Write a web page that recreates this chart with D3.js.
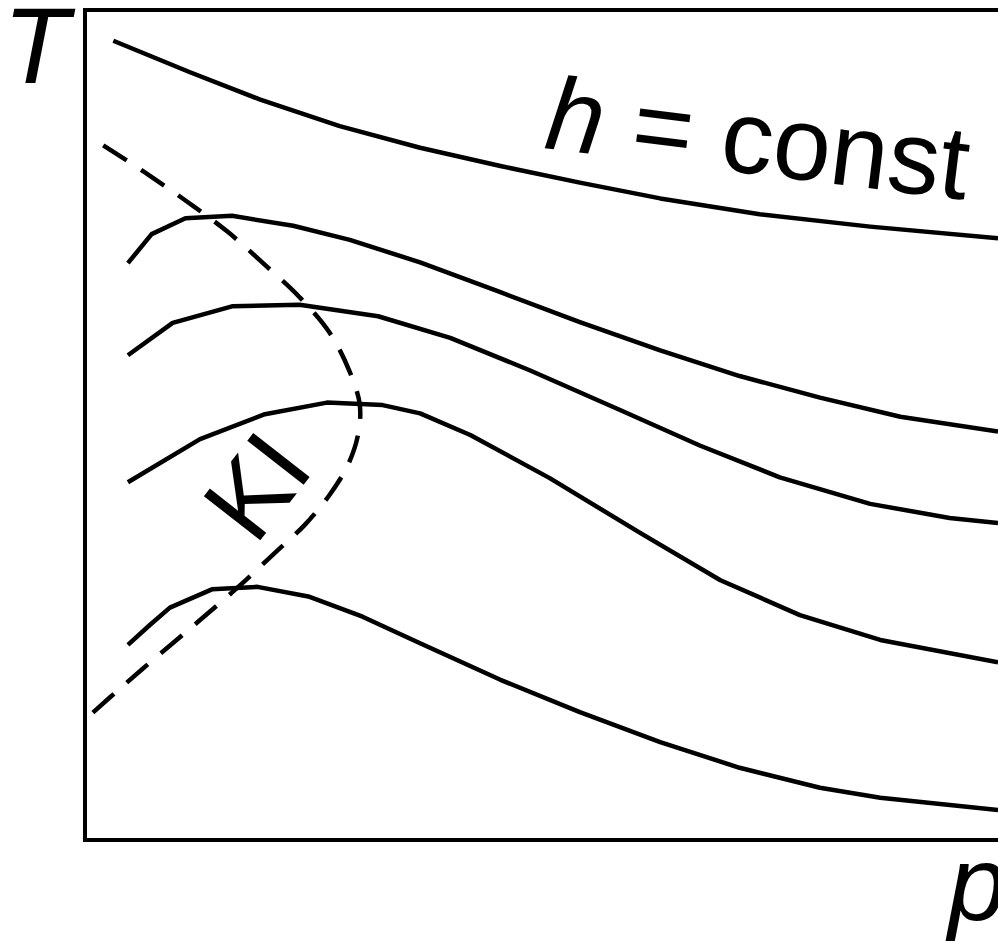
<!DOCTYPE html>
<html>
<head>
<meta charset="utf-8">
<script src="https://cdn.jsdelivr.net/npm/d3@7"></script>
<style>
  html, body { margin: 0; padding: 0; background: #fff; }
  svg { display: block; }
  text { font-family: "Liberation Sans", Arial, sans-serif; fill: #000; }
</style>
</head>
<body>
<svg id="chart"></svg>
<script>
// isenthalps h = const in the p-T plane (arbitrary units, 0..100)
const isenthalp1 = [[3.1,96.3],[11.5,92.5],[19.2,89.2],[27.9,86.0],[36.7,83.4],[45.5,81.2],[54.2,79.2],[63.0,77.3],[73.9,75.4],[86.0,73.9],[100,72.5]];
const isenthalp2 = [[4.7,69.5],[7.3,73.0],[11.0,74.9],[16.1,75.2],[22.8,74.0],[29.0,72.3],[36.7,69.6],[45.5,66.0],[54.2,62.4],[63.0,59.0],[71.7,55.9],[80.5,53.3],[89.3,51.0],[100,49.2]];
const isenthalp3 = [[4.7,58.4],[9.6,62.3],[16.1,64.3],[23.5,64.5],[32.1,63.1],[40.0,60.5],[48.7,56.6],[58.6,51.8],[67.4,47.5],[76.1,43.7],[86.0,40.5],[94.7,38.8],[100,38.2]];
const isenthalp4 = [[4.7,43.1],[12.6,48.3],[19.7,51.3],[26.5,52.7],[32.6,52.4],[36.7,51.4],[42.2,48.8],[50.9,43.6],[60.8,37.0],[69.6,31.3],[78.3,27.1],[87.1,24.1],[100,21.4]];
const isenthalp5 = [[4.7,23.5],[7.1,25.9],[9.3,28.0],[13.9,30.2],[18.9,30.5],[24.6,29.3],[30.4,26.9],[36.7,23.7],[45.5,19.3],[54.2,15.4],[63.0,11.8],[71.7,8.7],[80.5,6.3],[87.1,5.1],[100,3.6]];
// inversion curve (dashed)
const inversion = [[2.0,83.7],[6.6,80.4],[11.2,76.9],[15.6,73.3],[19.5,69.5],[23.5,65.4],[26.8,61.1],[29.0,56.4],[30.1,52.4],[29.9,48.8],[28.8,45.2],[26.8,41.6],[24.1,38.0],[20.8,34.6],[17.0,30.7],[12.6,26.5],[8.2,22.4],[4.4,18.8],[0.2,14.7]];

const isenthalps = [isenthalp1, isenthalp2, isenthalp3, isenthalp4, isenthalp5];

const W = 998, H = 941;
const svg = d3.select("#chart").attr("width", W).attr("height", H);

const x = d3.scaleLinear().domain([0, 100]).range([85, 998]);
const y = d3.scaleLinear().domain([0, 100]).range([840, 10]);

// frame, right side runs off the picture
svg.append("rect")
  .attr("x", x(0)).attr("y", y(100))
  .attr("width", x(106) - x(0)).attr("height", y(0) - y(100))
  .attr("fill", "none").attr("stroke", "#000").attr("stroke-width", 4);

const line = d3.line().x(d => x(d[0])).y(d => y(d[1]));

svg.selectAll("path.iso")
  .data(isenthalps)
  .enter().append("path")
  .attr("class", "iso")
  .attr("d", line)
  .attr("fill", "none")
  .attr("stroke", "#000")
  .attr("stroke-width", 4.5)
  .attr("stroke-linejoin", "round");

svg.append("path")
  .datum(inversion)
  .attr("d", line.curve(d3.curveCatmullRom))
  .attr("fill", "none")
  .attr("stroke", "#000")
  .attr("stroke-width", 4.5)
  .attr("stroke-dasharray", "28,17");

// labels
svg.append("text")
  .attr("x", 3).attr("y", 83)
  .style("font-size", "108px").style("font-style", "italic")
  .text("T");

svg.append("text")
  .attr("x", 948).attr("y", 920)
  .style("font-size", "106px").style("font-style", "italic")
  .text("p");

const hl = svg.append("text")
  .attr("transform", "translate(543,148) rotate(7)")
  .style("font-size", "104px");
hl.append("tspan").style("font-style", "italic").text("h");
hl.append("tspan").text(" = const");

svg.append("text")
  .attr("transform", "translate(255,547) rotate(-52)")
  .style("font-size", "104px")
  .text("KI");
</script>
</body>
</html>
